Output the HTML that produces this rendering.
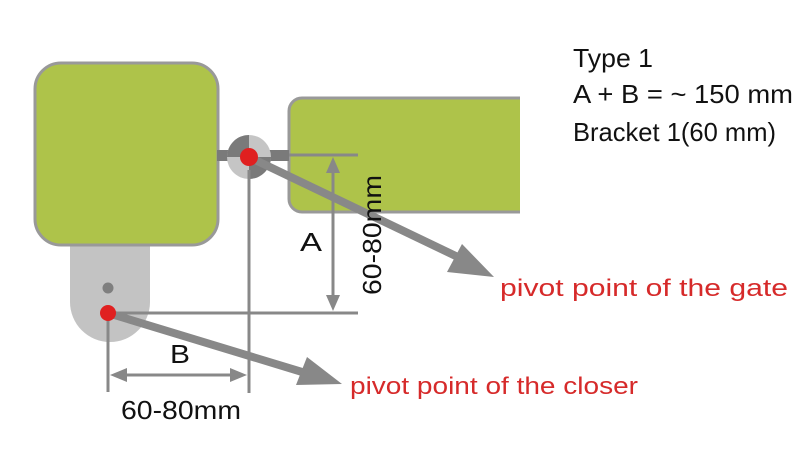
<!DOCTYPE html>
<html><head><style>body{margin:0;background:#fff}svg{display:block}</style></head><body>
<svg width="800" height="450" viewBox="0 0 800 450" xmlns="http://www.w3.org/2000/svg" font-family="Liberation Sans, sans-serif">
<rect width="800" height="450" fill="#fff"/>
<path d="M70 238 H150 V302 A40 40 0 0 1 70 302 Z" fill="#c3c3c3"/>
<rect x="35" y="63" width="183" height="182" rx="26" fill="#aec34a" stroke="#999" stroke-width="3"/>
<path d="M520 98 H302 A13 13 0 0 0 289 111 V199 A13 13 0 0 0 302 212 H520" fill="#aec34a" stroke="#999" stroke-width="3"/>
<rect x="217" y="150" width="72" height="11" fill="#7a7a7a"/>
<circle cx="249" cy="157" r="22" fill="#c5c5c5"/>
<path d="M249 157 L227 157 A22 22 0 0 1 249 135 Z" fill="#7a7a7a"/>
<path d="M249 157 L271 157 A22 22 0 0 1 249 179 Z" fill="#7a7a7a"/>
<g stroke="#888" stroke-width="3" fill="none">
<line x1="289" y1="155" x2="358" y2="155"/>
<line x1="249" y1="170" x2="249" y2="393"/>
<line x1="108" y1="313" x2="358" y2="313"/>
<line x1="108" y1="313" x2="108" y2="392"/>
<line x1="333" y1="170" x2="333" y2="298"/>
<line x1="122" y1="375" x2="235" y2="375"/>
</g>
<g fill="#888">
<polygon points="333,157 326,173 340,173"/>
<polygon points="333,311 326,295 340,295"/>
<polygon points="110,375 127,368 127,382"/>
<polygon points="247,375 230,368 230,382"/>
</g>
<g stroke="#888" stroke-width="8">
<line x1="249" y1="157" x2="462" y2="259"/>
<line x1="108" y1="313" x2="312" y2="375"/>
</g>
<polygon points="494,277 447,272 462,244" fill="#888"/>
<polygon points="342,384 296,385 307,357" fill="#888"/>
<circle cx="108" cy="288" r="5.5" fill="#7f7f7f"/>
<circle cx="108" cy="313" r="8" fill="#e02020"/>
<circle cx="249" cy="157" r="9" fill="#e02020"/>
<g fill="#111" font-size="26">
<text x="300" y="251" textLength="22" lengthAdjust="spacingAndGlyphs">A</text>
<text x="170" y="363" textLength="20" lengthAdjust="spacingAndGlyphs">B</text>
<text x="121" y="419" textLength="120" lengthAdjust="spacingAndGlyphs">60-80mm</text>
<text transform="translate(381,235) rotate(-90)" x="-60" textLength="120" lengthAdjust="spacingAndGlyphs">60-80mm</text>
<text x="573" y="67" textLength="80" lengthAdjust="spacingAndGlyphs">Type 1</text>
<text x="573" y="103" textLength="220" lengthAdjust="spacingAndGlyphs">A + B = ~ 150 mm</text>
<text x="573" y="141" textLength="203" lengthAdjust="spacingAndGlyphs">Bracket 1(60 mm)</text>
</g>
<g fill="#d62a2a" font-size="24">
<text x="500" y="296" textLength="288" lengthAdjust="spacingAndGlyphs">pivot point of the gate</text>
<text x="350" y="394" textLength="288" lengthAdjust="spacingAndGlyphs">pivot point of the closer</text>
</g>
</svg>
</body></html>
